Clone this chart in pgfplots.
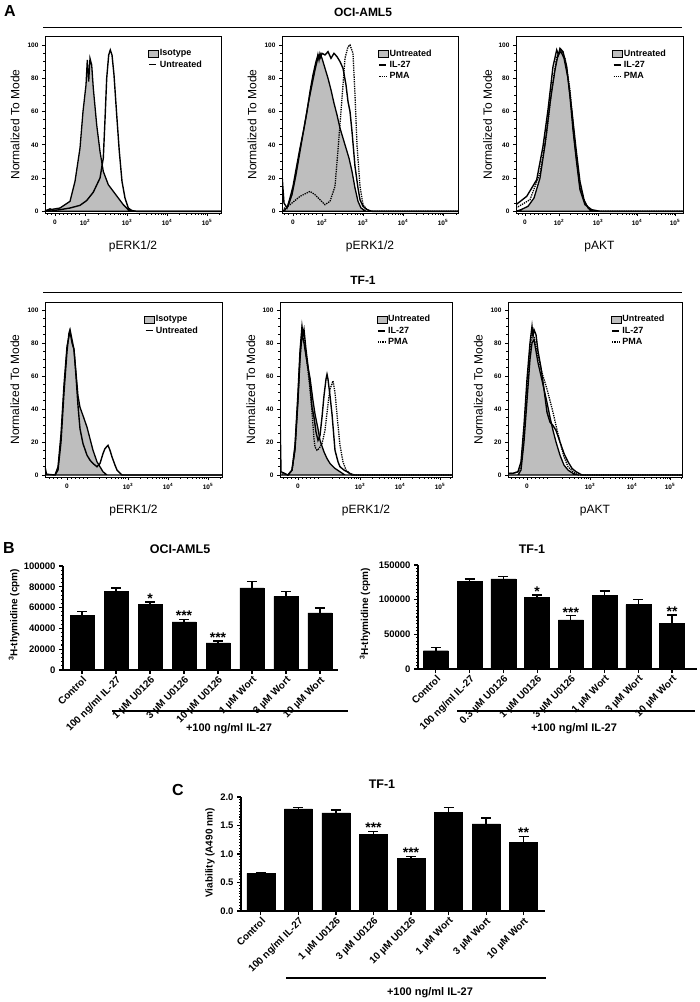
\documentclass[border=0pt]{standalone}
\usepackage{fontspec}
\setmainfont{Liberation Sans}
\usepackage{pgfplots}
\pgfplotsset{compat=1.18}
\definecolor{histgray}{RGB}{190,190,190}
\tikzset{sigstar/.style={font=\bfseries\fontsize{14}{14}\selectfont, anchor=base, yshift=-1.5pt, inner sep=0pt}}
\pgfplotsset{
  /pgf/number format/assume math mode=true,
  hist/.style={
    scale only axis, anchor=north west,
    xmin=0, ymin=-1, ymax=105.4,
    axis line style={line width=0.9pt},
    tick style={black, line width=0.7pt},
    tick align=outside, tick pos=left,
    major tick length=3pt, minor tick length=1.6pt,
    ytick={0,20,40,60,80,100}, minor y tick num=3,
    tick label style={font=\bfseries\fontsize{6.5}{7}\selectfont},
    ylabel={Normalized To Mode},
    ylabel style={font=\fontsize{12}{14}\selectfont, at={(axis description cs:-0.17,0.5)}, anchor=center},
    xlabel style={font=\fontsize{12}{14}\selectfont, at={(axis description cs:0.5,-0.19)}, anchor=center},
    legend style={draw=none, fill=none, anchor=north west, inner sep=0pt, row sep=1.5pt,
      font=\bfseries\fontsize{9}{10}\selectfont, nodes={inner sep=1pt}},
    legend cell align=left,
    legend image code/.code={\draw[##1] (1pt,0pt) -- (8pt,0pt);},
  },
  graybox/.style={fill=histgray, draw=black, line width=1.3pt,
    legend image code/.code={\draw[##1, line width=0.6pt] (0pt,-3.5pt) rectangle (10pt,3.5pt);}},
  hline/.style={black, line width=1.4pt},
  dline/.style={black, line width=1.3pt, densely dotted},
  bars/.style={
    scale only axis, anchor=south west, clip=false,
    axis x line*=bottom, axis y line*=left,
    axis line style={line width=1.3pt},
    tick style={black, line width=1.1pt},
    tick align=outside, major tick length=4pt, minor tick length=2pt,
    ybar, ymin=0, xtick=data,
    xticklabel style={rotate=45, anchor=north east, font=\bfseries\fontsize{10}{11}\selectfont, inner sep=1pt},
    yticklabel style={font=\bfseries\fontsize{9.5}{10}\selectfont},
    ylabel style={font=\bfseries\fontsize{10}{11}\selectfont, anchor=center},
    scaled y ticks=false,
    y tick label style={/pgf/number format/.cd, fixed, 1000 sep={}},
  },
  barplot/.style={fill=black, draw=black,
    error bars/.cd, y dir=plus, y explicit,
    error bar style={line width=1.3pt, black},
    error mark options={rotate=90, mark size=5pt, line width=1.3pt, black}},
}
\begin{document}
\begin{tikzpicture}
\useasboundingbox (0,0) rectangle (700pt,-1002pt);
% ---------- Panel A titles ----------
\node[font=\bfseries\fontsize{16}{17}\selectfont] at (10pt,-11pt) {A};
\node[font=\bfseries\fontsize{12}{13}\selectfont] at (363pt,-12pt) {OCI-AML5};
\draw[line width=1pt] (43pt,-27pt) -- (682pt,-27pt);
\node[font=\bfseries\fontsize{12}{13}\selectfont] at (363pt,-280pt) {TF-1};
\draw[line width=1pt] (43pt,-292pt) -- (682pt,-292pt);

% ---------- Row 1, panel 1 ----------
\begin{axis}[hist, at={(45pt,-36pt)}, width=176pt, height=177pt, xmax=176,
  xtick={10,40,82,122,162},
  xticklabels={0,10\textsuperscript{2},10\textsuperscript{3},10\textsuperscript{4},10\textsuperscript{5}},
  minor xtick={2,6,14,18,22,26,30,34,53,60,65,69,73,75,78,80,94,101,106,110,113,116,118,120,134,141,146,150,153,156,158,160,174},
  xlabel={pERK1/2},
  legend style={at={(axis description cs:0.585,0.93)}}]
\addplot[graybox] coordinates {(0,0.5)(15,2)(25,6)(30,18)(35,38)(38,60)(41,76)(42.3,91)(43.7,78)(45,92)(46.7,88)(48.3,74)(51.7,52)(55,36)(58.3,24)(63.3,16)(68.3,12)(73.3,8)(78.3,4)(83.3,1)(88.3,0)(176,0)} \closedcycle;
\addplot[hline] coordinates {(0,0)(5,1.5)(8,0.5)(15,1)(25,2)(35,3.6)(41.7,6.5)(48.3,11.5)(55,20)(58.3,32)(60,55)(61.7,80)(63.7,94)(65.3,97)(67,94)(69,82)(71.7,58)(74.3,36)(77,18)(80,8)(83.3,2)(86.7,0.5)(91.7,0)(176,0)};
\legend{Isotype,Untreated}
\end{axis}

% ---------- Row 1, panel 2 ----------
\begin{axis}[hist, at={(282pt,-36pt)}, width=176pt, height=177pt, xmax=176,
  xtick={11,40,81,121,161},
  xticklabels={0,10\textsuperscript{2},10\textsuperscript{3},10\textsuperscript{4},10\textsuperscript{5}},
  minor xtick={2,6,14,18,22,26,30,34,53,60,65,69,73,75,78,80,94,101,106,110,113,116,118,120,134,141,146,150,153,156,158,160,174},
  xlabel={pERK1/2},
  legend style={at={(axis description cs:0.545,0.93)}}]
\addplot[graybox] coordinates {(0,0)(3,1)(6,3)(10,10)(14,22)(18,36)(22,50)(26,64)(30,76)(33,85)(35,90)(36,94)(37,91)(38,95)(40,92)(43,86)(46,80)(49,73)(52,65)(55,58)(58,50)(61,44)(64,38)(67,32)(70,24)(73,14)(76,6)(79,2)(84,0)(176,0)} \closedcycle;
\addplot[hline] coordinates {(0,22)(2,5)(5,2)(8,8)(11,15)(14,25)(18,38)(22,50)(25,60)(28,72)(31,82)(34,90)(36,94)(38,92)(40,95)(43,94)(46,96)(49,92)(52,95)(55,93)(58,90)(61,86)(64,76)(66,66)(68,60)(70,48)(73,27)(76,14)(78,7)(81,3)(85,1)(90,0)(176,0)};
\addplot[dline] coordinates {(0,1)(8,4)(18,9)(28,12)(33,10)(38,7)(43,4)(48,6)(53,15)(56,37)(60,68)(63,92)(66,99)(68,100)(71,95)(73,70)(75,40)(78,15)(81,4)(85,1)(90,0)(176,0)};
\legend{Untreated,IL-27,PMA}
\end{axis}

% ---------- Row 1, panel 3 ----------
\begin{axis}[hist, at={(516pt,-36pt)}, width=167pt, height=177pt, xmax=167,
  xtick={9,43,82,121,159},
  xticklabels={0,10\textsuperscript{2},10\textsuperscript{3},10\textsuperscript{4},10\textsuperscript{5}},
  minor xtick={2,6,14,18,22,26,30,34,54,61,66,70,73,76,78,80,94,101,106,110,113,116,118,120,133,140,145,149,152,154,156,158},
  xlabel={pAKT},
  legend style={at={(axis description cs:0.575,0.93)}}]
\addplot[graybox] coordinates {(0,0)(5,1)(12,3)(18,8)(24,20)(29,40)(34,65)(39,85)(42,94)(45,96)(48,92)(52,80)(56,60)(60,38)(64,18)(68,7)(72,2)(76,0)(167,0)} \closedcycle;
\addplot[hline] coordinates {(0,4)(10.7,9)(20.7,19)(27,39)(32,61)(37,87)(40.7,97)(42.5,94)(44,98)(47,96)(50.7,87)(54,69)(57,49)(60.7,29)(64,13)(69,4)(75.7,1)(84,0)(167,0)};
\addplot[dline] coordinates {(0,2)(14,7)(24,23)(30.7,47)(35.7,73)(40.7,93)(44.7,97)(49,92)(54,73)(59,39)(64,15)(69,5)(74,1)(80,0)(167,0)};
\legend{Untreated,IL-27,PMA}
\end{axis}

% ---------- Row 2, panel 1 ----------
\begin{axis}[hist, at={(45pt,-302pt)}, width=177pt, height=175pt, xmax=177, ymin=-1.2, ymax=104.8,
  xtick={22,83,123,163},
  xticklabels={0,10\textsuperscript{3},10\textsuperscript{4},10\textsuperscript{5}},
  minor xtick={4,8,12,16,26,30,34,38,42,54,61,66,70,73,76,78,80,95,102,107,111,114,117,119,121,135,142,147,151,154,157,159,161,175},
  xlabel={pERK1/2},
  legend style={at={(axis description cs:0.56,0.93)}}]
\addplot[graybox] coordinates {(0,0)(10,0)(13,5)(16,25)(19,55)(22,78)(25,87)(27,80)(29,76)(31,62)(33,48)(35,41)(38,36)(42,29)(45,22)(48,15)(52,8)(55,5)(58,2)(62,0)(177,0)} \closedcycle;
\addplot[hline] coordinates {(0,5)(1.5,0.5)(10,0)(13,3)(16,20)(19,50)(22,75)(24,86)(25,88)(27,82)(29,76)(31,60)(33,42)(35,28)(38,19)(42,12)(45,9)(48,7)(52,5)(55,7)(58,13)(60,16)(63,18)(65,15)(67,11)(70,6)(72,3)(77,0)(177,0)};
\legend{Isotype,Untreated}
\end{axis}

% ---------- Row 2, panel 2 ----------
\begin{axis}[hist, at={(280pt,-302pt)}, width=172pt, height=175pt, xmax=172, ymin=-1.2, ymax=104.8,
  xtick={18,80,120,160},
  xticklabels={0,10\textsuperscript{3},10\textsuperscript{4},10\textsuperscript{5}},
  minor xtick={3,7,11,15,22,26,30,34,38,52,59,64,68,71,74,76,78,92,99,104,108,111,114,116,118,132,139,144,148,151,154,156,158,170},
  xlabel={pERK1/2},
  legend style={at={(axis description cs:0.56,0.93)}}]
\addplot[graybox] coordinates {(0,0)(8,0)(12,3)(15,15)(18,45)(20,70)(22,85)(24,80)(26,72)(28,65)(30,59)(33,45)(35,37)(38,28)(40,21)(44,14)(47,10)(50,7)(55,4)(60,2)(65,0)(172,0)} \closedcycle;
\addplot[hline] coordinates {(0,38)(1,2)(8,0)(12,3)(15,18)(18,50)(20,75)(22,90)(23,85)(24,88)(26,76)(28,66)(30,55)(32,41)(34,35)(36,26)(38,21)(40,24)(42,35)(44,48)(46,58)(47,61)(48,58)(50,48)(52,37)(55,15)(58,8)(60,5)(64,3)(67,2)(72,0)(172,0)};
\addplot[dline] coordinates {(0,1)(8,0)(12,3)(15,16)(18,46)(20,72)(22,88)(24,82)(26,73)(28,63)(30,52)(32,38)(34,22)(35,17)(37,15)(39,16)(42,19)(45,27)(48,43)(50,52)(53,57)(55,50)(58,30)(60,18)(63,8)(66,3)(70,1)(75,0)(172,0)};
\legend{Untreated,IL-27,PMA}
\end{axis}

% ---------- Row 2, panel 3 ----------
\begin{axis}[hist, at={(508pt,-302pt)}, width=174pt, height=175pt, xmax=174, ymin=-1.2, ymax=104.8,
  xtick={19,82,124,162},
  xticklabels={0,10\textsuperscript{3},10\textsuperscript{4},10\textsuperscript{5}},
  minor xtick={3,7,11,15,23,27,31,35,39,54,61,66,70,73,76,78,80,95,102,107,111,114,117,120,122,136,143,148,152,155,157,159,161,173},
  xlabel={pAKT},
  legend style={at={(axis description cs:0.59,0.93)}}]
\addplot[graybox] coordinates {(0,0)(10,0)(13,3)(16,20)(19,45)(22,70)(24,80)(26,82)(28,75)(30,68)(33,60)(36,52)(39,44)(42,35)(45,27)(48,20)(52,12)(56,6)(60,3)(65,1)(70,0)(174,0)} \closedcycle;
\addplot[hline] coordinates {(0,1)(5,1)(10,2)(13,8)(16,30)(19,58)(22,80)(24,90)(25,84)(26,88)(28,85)(30,75)(33,65)(36,52)(39,38)(42,32)(45,30)(48,27)(52,20)(56,13)(60,8)(64,4)(68,2)(74,0)(174,0)};
\addplot[dline] coordinates {(0,1)(5,1)(10,2)(13,5)(16,25)(19,52)(22,75)(24,85)(26,84)(28,78)(30,72)(33,64)(36,58)(39,52)(42,45)(45,38)(48,30)(52,20)(56,11)(60,5)(65,2)(70,0)(174,0)};
\legend{Untreated,IL-27,PMA}
\end{axis}

% ---------- Panel B ----------
\node[font=\bfseries\fontsize{16}{17}\selectfont] at (9pt,-548pt) {B};
\node[font=\bfseries\fontsize{12.5}{13}\selectfont] at (180pt,-549pt) {OCI-AML5};
\node[font=\bfseries\fontsize{12.5}{13}\selectfont] at (532pt,-549pt) {TF-1};

\begin{axis}[bars, at={(63pt,-670pt)}, width=275pt, height=104pt,
  xmin=-0.56, xmax=7.53, ymax=100000, bar width=24pt,
  ytick={0,20000,40000,60000,80000,100000}, minor y tick num=4,
  xticklabels={Control,100 ng/ml IL-27,1 µM U0126,3 µM U0126,10 µM U0126,1 µM Wort,3 µM Wort,10 µM Wort},
  ylabel={\textsuperscript{3}H-thymidine (cpm)},
  ylabel style={at={(axis description cs:-0.178,0.53)}}]
\addplot[barplot] coordinates {(0,52700) +- (0,3300) (1,75700) +- (0,3200) (2,63000) +- (0,2500) (3,46300) +- (0,2600) (4,26200) +- (0,1600) (5,78900) +- (0,6400) (6,70900) +- (0,4800) (7,55000) +- (0,4700)};
\node[sigstar] at (axis cs:2,65500) {*};
\node[sigstar] at (axis cs:3,48900) {***};
\node[sigstar] at (axis cs:4,27800) {***};
\end{axis}
\draw[line width=1.2pt] (112pt,-711pt) -- (348pt,-711pt);
\node[font=\bfseries\fontsize{11}{12}\selectfont] at (229pt,-729pt) {+100 ng/ml IL-27};

\begin{axis}[bars, at={(418pt,-669pt)}, width=279pt, height=104pt,
  xmin=-0.53, xmax=7.74, ymax=150000, bar width=25pt,
  ytick={0,50000,100000,150000}, minor y tick num=9,
  xticklabels={Control,100 ng/ml IL-27,0.3 µM U0126,1 µM U0126,3 µM U0126,1 µM Wort,3 µM Wort,10 µM Wort},
  ylabel={\textsuperscript{3}H-thymidine (cpm)},
  ylabel style={at={(axis description cs:-0.19,0.53)}}]
\addplot[barplot] coordinates {(0,26400) +- (0,4800) (1,126000) +- (0,3900) (2,129900) +- (0,3300) (3,103500) +- (0,3400) (4,70900) +- (0,5800) (5,106400) +- (0,6200) (6,93000) +- (0,7600) (7,66100) +- (0,12000)};
\node[sigstar] at (axis cs:3,106900) {*};
\node[sigstar] at (axis cs:4,76700) {***};
\node[sigstar] at (axis cs:7,78100) {**};
\end{axis}
\draw[line width=1.2pt] (457pt,-711pt) -- (695pt,-711pt);
\node[font=\bfseries\fontsize{11}{12}\selectfont] at (574pt,-729pt) {+100 ng/ml IL-27};

% ---------- Panel C ----------
\node[font=\bfseries\fontsize{16}{17}\selectfont] at (178pt,-790pt) {C};
\node[font=\bfseries\fontsize{12.5}{13}\selectfont] at (382pt,-784pt) {TF-1};
\begin{axis}[bars, at={(241pt,-911pt)}, width=304pt, height=114pt,
  xmin=-0.53, xmax=7.57, ymax=2, bar width=28pt,
  ytick={0,0.5,1,1.5,2}, minor y tick num=9,
  y tick label style={/pgf/number format/.cd, fixed, fixed zerofill, precision=1},
  xticklabels={Control,100 ng/ml IL-27,1 µM U0126,3 µM U0126,10 µM U0126,1 µM Wort,3 µM Wort,10 µM Wort},
  ylabel={Viability (A490 nm)},
  ylabel style={at={(axis description cs:-0.102,0.51)}}]
\addplot[barplot] coordinates {(0,0.66) +- (0,0.02) (1,1.79) +- (0,0.03) (2,1.72) +- (0,0.05) (3,1.34) +- (0,0.06) (4,0.93) +- (0,0.03) (5,1.73) +- (0,0.09) (6,1.53) +- (0,0.10) (7,1.20) +- (0,0.11)};
\node[sigstar] at (axis cs:3,1.40) {***};
\node[sigstar] at (axis cs:4,0.96) {***};
\node[sigstar] at (axis cs:7,1.31) {**};
\end{axis}
\draw[line width=1.2pt] (286pt,-978pt) -- (546pt,-978pt);
\node[font=\bfseries\fontsize{11}{12}\selectfont] at (430pt,-993pt) {+100 ng/ml IL-27};
\end{tikzpicture}
\end{document}
